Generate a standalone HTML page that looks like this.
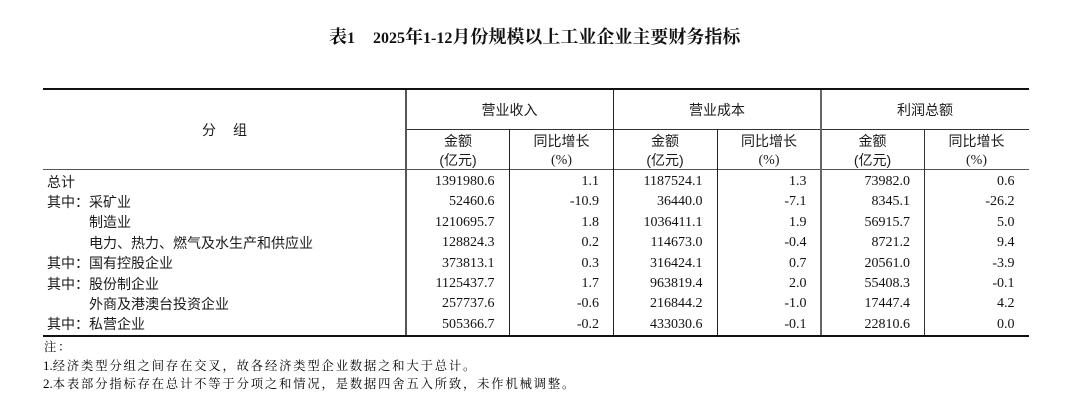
<!DOCTYPE html>
<html lang="zh-CN">
<head>
<meta charset="utf-8">
<style>
  html,body{margin:0;padding:0;background:#fff;}
  body{width:1080px;height:401px;position:relative;overflow:hidden;color:#1a1a1a;}
  .a{position:absolute;white-space:nowrap;}
  .ln{position:absolute;}
  .cjk{font-family:"Liberation Sans","Noto Sans CJK SC",sans-serif;font-size:14px;}
  .num{font-family:"Liberation Serif","Noto Serif CJK SC",serif;font-size:14px;text-align:right;height:20px;line-height:20px;color:#111;}
  .lbl{font-family:"Liberation Sans","Noto Sans CJK SC",sans-serif;font-size:14px;height:20px;line-height:20px;}
  .hc{text-align:center;height:20px;line-height:20px;}
  .note{font-family:"Liberation Serif","Noto Serif CJK SC",serif;font-size:12.3px;letter-spacing:1.85px;height:18px;line-height:18px;color:#000;}
  .title{font-family:"Liberation Serif","Noto Serif CJK SC",serif;font-weight:bold;font-size:18px;height:24px;line-height:24px;color:#111;}
</style>
</head>
<body>

<!-- Title -->
<div class="a title" style="left:329px;top:25px;">表<span style="font-size:16px;">1</span><span style="display:inline-block;width:18px;"></span><span style="font-size:16px;">2025</span>年<span style="font-size:16px;">1-12</span>月份规模以上工业企业主要财务指标</div>

<!-- Horizontal lines -->
<div class="ln" style="left:43px;top:88px;width:986px;height:2px;background:#111;"></div>
<div class="ln" style="left:406px;top:129px;width:623px;height:1px;background:#333;"></div>
<div class="ln" style="left:43px;top:169px;width:986px;height:1px;background:#555;"></div>
<div class="ln" style="left:43px;top:335px;width:986px;height:2px;background:#111;"></div>

<!-- Vertical lines -->
<div class="ln" style="left:405px;top:90px;width:1.5px;height:245px;background:#555;"></div>
<div class="ln" style="left:509px;top:129px;width:1px;height:206px;background:#222;"></div>
<div class="ln" style="left:613px;top:90px;width:1px;height:245px;background:#222;"></div>
<div class="ln" style="left:717px;top:129px;width:1px;height:206px;background:#222;"></div>
<div class="ln" style="left:820px;top:90px;width:1.5px;height:245px;background:#666;"></div>
<div class="ln" style="left:924px;top:129px;width:1px;height:206px;background:#333;"></div>

<!-- Header -->
<div class="a cjk" style="left:202px;top:120px;height:20px;line-height:20px;">分</div>
<div class="a cjk" style="left:233px;top:120px;height:20px;line-height:20px;">组</div>

<div class="a cjk hc" style="left:406px;width:207px;top:100px;">营业收入</div>
<div class="a cjk hc" style="left:613px;width:208px;top:100px;">营业成本</div>
<div class="a cjk hc" style="left:821px;width:208px;top:100px;">利润总额</div>

<div class="a cjk hc" style="left:406px;width:104px;top:131px;">金额</div>
<div class="a cjk hc" style="left:406px;width:104px;top:150px;">(亿元)</div>
<div class="a cjk hc" style="left:510px;width:103px;top:131px;">同比增长</div>
<div class="a hc" style="left:510px;width:103px;top:151px;font-family:'Liberation Serif',serif;font-size:14px;">(%)</div>

<div class="a cjk hc" style="left:613px;width:104px;top:131px;">金额</div>
<div class="a cjk hc" style="left:613px;width:104px;top:150px;">(亿元)</div>
<div class="a cjk hc" style="left:717px;width:104px;top:131px;">同比增长</div>
<div class="a hc" style="left:717px;width:104px;top:151px;font-family:'Liberation Serif',serif;font-size:14px;">(%)</div>

<div class="a cjk hc" style="left:821px;width:103px;top:131px;">金额</div>
<div class="a cjk hc" style="left:821px;width:103px;top:150px;">(亿元)</div>
<div class="a cjk hc" style="left:924px;width:105px;top:131px;">同比增长</div>
<div class="a hc" style="left:924px;width:105px;top:151px;font-family:'Liberation Serif',serif;font-size:14px;">(%)</div>

<!-- Row labels -->
<div class="a lbl" style="left:47px;top:171.5px;">总计</div>
<div class="a lbl" style="left:47px;top:191.9px;">其中：</div><div class="a lbl" style="left:89px;top:191.9px;">采矿业</div>
<div class="a lbl" style="left:89px;top:212.3px;">制造业</div>
<div class="a lbl" style="left:89px;top:232.7px;">电力、热力、燃气及水生产和供应业</div>
<div class="a lbl" style="left:47px;top:253.1px;">其中：</div><div class="a lbl" style="left:89px;top:253.1px;">国有控股企业</div>
<div class="a lbl" style="left:47px;top:273.5px;">其中：</div><div class="a lbl" style="left:89px;top:273.5px;">股份制企业</div>
<div class="a lbl" style="left:89px;top:293.9px;">外商及港澳台投资企业</div>
<div class="a lbl" style="left:47px;top:314.3px;">其中：</div><div class="a lbl" style="left:89px;top:314.3px;">私营企业</div>

<!-- Row 0 -->
<div class="a num" style="left:406px;width:88.5px;top:172px;">1391980.6</div>
<div class="a num" style="left:510px;width:89px;top:172px;">1.1</div>
<div class="a num" style="left:613px;width:89.5px;top:172px;">1187524.1</div>
<div class="a num" style="left:717px;width:89.5px;top:172px;">1.3</div>
<div class="a num" style="left:821px;width:89px;top:172px;">73982.0</div>
<div class="a num" style="left:924px;width:90.5px;top:172px;">0.6</div>
<!-- Row 1 -->
<div class="a num" style="left:406px;width:88.5px;top:192.4px;">52460.6</div>
<div class="a num" style="left:510px;width:89px;top:192.4px;">-10.9</div>
<div class="a num" style="left:613px;width:89.5px;top:192.4px;">36440.0</div>
<div class="a num" style="left:717px;width:89.5px;top:192.4px;">-7.1</div>
<div class="a num" style="left:821px;width:89px;top:192.4px;">8345.1</div>
<div class="a num" style="left:924px;width:90.5px;top:192.4px;">-26.2</div>
<!-- Row 2 -->
<div class="a num" style="left:406px;width:88.5px;top:212.8px;">1210695.7</div>
<div class="a num" style="left:510px;width:89px;top:212.8px;">1.8</div>
<div class="a num" style="left:613px;width:89.5px;top:212.8px;">1036411.1</div>
<div class="a num" style="left:717px;width:89.5px;top:212.8px;">1.9</div>
<div class="a num" style="left:821px;width:89px;top:212.8px;">56915.7</div>
<div class="a num" style="left:924px;width:90.5px;top:212.8px;">5.0</div>
<!-- Row 3 -->
<div class="a num" style="left:406px;width:88.5px;top:233.2px;">128824.3</div>
<div class="a num" style="left:510px;width:89px;top:233.2px;">0.2</div>
<div class="a num" style="left:613px;width:89.5px;top:233.2px;">114673.0</div>
<div class="a num" style="left:717px;width:89.5px;top:233.2px;">-0.4</div>
<div class="a num" style="left:821px;width:89px;top:233.2px;">8721.2</div>
<div class="a num" style="left:924px;width:90.5px;top:233.2px;">9.4</div>
<!-- Row 4 -->
<div class="a num" style="left:406px;width:88.5px;top:253.6px;">373813.1</div>
<div class="a num" style="left:510px;width:89px;top:253.6px;">0.3</div>
<div class="a num" style="left:613px;width:89.5px;top:253.6px;">316424.1</div>
<div class="a num" style="left:717px;width:89.5px;top:253.6px;">0.7</div>
<div class="a num" style="left:821px;width:89px;top:253.6px;">20561.0</div>
<div class="a num" style="left:924px;width:90.5px;top:253.6px;">-3.9</div>
<!-- Row 5 -->
<div class="a num" style="left:406px;width:88.5px;top:274px;">1125437.7</div>
<div class="a num" style="left:510px;width:89px;top:274px;">1.7</div>
<div class="a num" style="left:613px;width:89.5px;top:274px;">963819.4</div>
<div class="a num" style="left:717px;width:89.5px;top:274px;">2.0</div>
<div class="a num" style="left:821px;width:89px;top:274px;">55408.3</div>
<div class="a num" style="left:924px;width:90.5px;top:274px;">-0.1</div>
<!-- Row 6 -->
<div class="a num" style="left:406px;width:88.5px;top:294.4px;">257737.6</div>
<div class="a num" style="left:510px;width:89px;top:294.4px;">-0.6</div>
<div class="a num" style="left:613px;width:89.5px;top:294.4px;">216844.2</div>
<div class="a num" style="left:717px;width:89.5px;top:294.4px;">-1.0</div>
<div class="a num" style="left:821px;width:89px;top:294.4px;">17447.4</div>
<div class="a num" style="left:924px;width:90.5px;top:294.4px;">4.2</div>
<!-- Row 7 -->
<div class="a num" style="left:406px;width:88.5px;top:314.8px;">505366.7</div>
<div class="a num" style="left:510px;width:89px;top:314.8px;">-0.2</div>
<div class="a num" style="left:613px;width:89.5px;top:314.8px;">433030.6</div>
<div class="a num" style="left:717px;width:89.5px;top:314.8px;">-0.1</div>
<div class="a num" style="left:821px;width:89px;top:314.8px;">22810.6</div>
<div class="a num" style="left:924px;width:90.5px;top:314.8px;">0.0</div>

<!-- Notes -->
<div class="a note" style="left:44px;top:338px;">注：</div>
<div class="a note" style="left:43px;top:356.5px;"><span style="letter-spacing:0;font-size:13px;">1.</span>经济类型分组之间存在交叉，故各经济类型企业数据之和大于总计。</div>
<div class="a note" style="left:43px;top:375px;"><span style="letter-spacing:0;font-size:13px;">2.</span>本表部分指标存在总计不等于分项之和情况，是数据四舍五入所致，未作机械调整。</div>

</body>
</html>
